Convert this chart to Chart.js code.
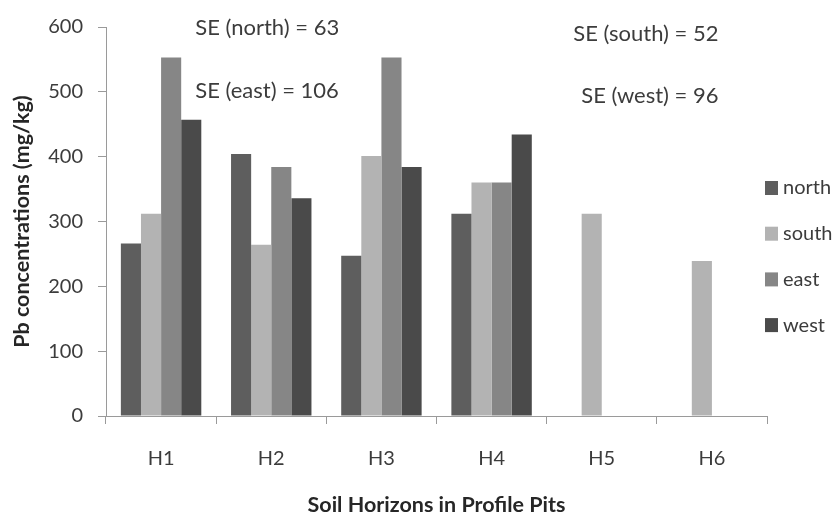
<!DOCTYPE html>
<html>
<head>
<meta charset="utf-8">
<script src="https://cdn.jsdelivr.net/npm/chart.js@4/dist/chart.umd.min.js"></script>
<style>
html,body{margin:0;padding:0;background:#fff;}
#wrap{width:836px;height:518px;position:relative;}
</style>
</head>
<body>
<div id="wrap"><canvas id="c" width="836" height="518"></canvas></div>
<script>
const categories = ["H1", "H2", "H3", "H4", "H5", "H6"];
const seriesNames = ["north", "south", "east", "west"];
const north = [266, 404, 247, 312, null, null];
const south = [312, 264, 401, 360, 312, 239];
const east  = [553, 384, 553, 360, null, null];
const west  = [457, 336, 384, 434, null, null];
const seriesColors = ["#5e5e5e", "#b3b3b3", "#868686", "#4a4a4a"];
const yTicks = { min: 0, max: 600, step: 100 };
const notes = [
  { text: "SE (north) = 63", x: 0.31, y: 598, align: "left" },
  { text: "SE (east) = 106", x: 0.31, y: 502, align: "left" },
  { text: "SE (south) = 52", x: 5.06, y: 589, align: "right" },
  { text: "SE (west) = 96",  x: 5.06, y: 493, align: "right" }
];
const xTitle = "Soil Horizons in Profile Pits";
const yTitle = "Pb concentrations (mg/kg)";

const FONT = "Lato, 'Open Sans', sans-serif";
const TEXT = "#3c3c3c";
const AXIS = "#9a9a9a";

const values = [north, south, east, west];

const notesPlugin = {
  id: "notes",
  afterDraw(chart) {
    const ctx = chart.ctx;
    const xs = chart.scales.x, ys = chart.scales.y;
    ctx.save();
    ctx.font = "22px " + FONT;
    ctx.fillStyle = TEXT;
    ctx.textBaseline = "middle";
    notes.forEach(n => {
      ctx.textAlign = n.align;
      ctx.fillText(n.text, xs.getPixelForValue(n.x), ys.getPixelForValue(n.y));
    });
    ctx.restore();
  }
};

const legendPlugin = {
  id: "sideLegend",
  afterDraw(chart) {
    const ctx = chart.ctx;
    const area = chart.chartArea;
    ctx.save();
    ctx.font = "20px " + FONT;
    ctx.textBaseline = "middle";
    ctx.textAlign = "left";
    const x0 = area.right - 2;
    const y0 = area.top + 161;
    const gap = 45.7;
    chart.data.datasets.forEach((ds, i) => {
      const cy = y0 + i * gap;
      ctx.fillStyle = ds.backgroundColor;
      ctx.fillRect(x0, cy - 7, 13, 14);
      ctx.fillStyle = TEXT;
      ctx.fillText(ds.label, x0 + 18, cy);
    });
    ctx.restore();
  }
};

new Chart(document.getElementById("c"), {
  type: "bar",
  data: {
    labels: categories,
    datasets: seriesNames.map((name, i) => ({
      label: name,
      data: values[i],
      backgroundColor: seriesColors[i],
      borderWidth: 0,
      categoryPercentage: 0.73,
      barPercentage: 1.0
    }))
  },
  options: {
    responsive: false,
    animation: false,
    devicePixelRatio: 1,
    layout: { padding: { top: 24, right: 69, left: 0, bottom: 0 } },
    plugins: {
      legend: { display: false },
      tooltip: { enabled: false }
    },
    scales: {
      x: {
        offset: true,
        grid: { display: true, drawOnChartArea: false, drawTicks: true, tickLength: 8, color: AXIS, offset: true },
        border: { display: true, color: AXIS, width: 1 },
        ticks: { color: TEXT, font: { family: FONT, size: 20 }, padding: 23, maxRotation: 0 },
        title: { display: true, text: xTitle, color: "#262626", font: { family: FONT, size: 21.5, weight: "bold" }, padding: { top: 0, bottom: 0 } },
        afterFit(s) { s.height = 102; }
      },
      y: {
        min: yTicks.min,
        max: yTicks.max,
        grid: { display: true, drawOnChartArea: false, drawTicks: true, tickLength: 8, color: AXIS },
        border: { display: true, color: AXIS, width: 1 },
        ticks: { stepSize: yTicks.step, color: TEXT, font: { family: FONT, size: 20 }, padding: 15 },
        title: { display: true, text: yTitle, color: "#262626", font: { family: FONT, size: 21.5, weight: "bold" }, padding: { top: 9, bottom: 0 } },
        afterFit(s) { s.width = 106; }
      }
    }
  },
  plugins: [notesPlugin, legendPlugin]
});
</script>
</body>
</html>
